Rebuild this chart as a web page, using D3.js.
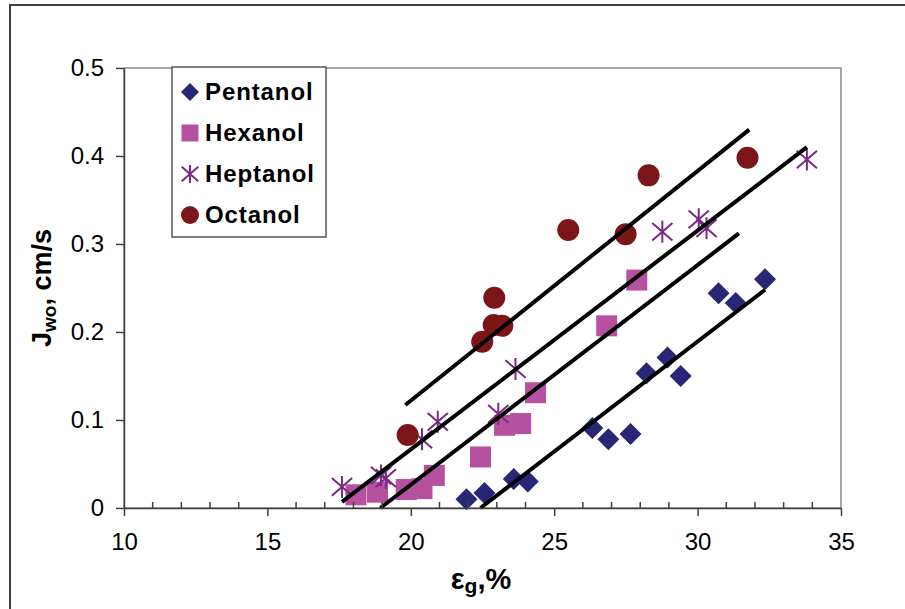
<!DOCTYPE html>
<html><head><meta charset="utf-8">
<script src="https://cdn.jsdelivr.net/npm/d3@7"></script>
<style>body{margin:0;background:#fff;} svg{display:block;font-family:"Liberation Sans",Arial,sans-serif;}</style>
</head><body><svg id="c" width="905" height="609"></svg>
<script>
// ---- data ----
const xTicks = [10, 15, 20, 25, 30, 35];
const yTicks = [0, 0.1, 0.2, 0.3, 0.4, 0.5];
const seriesNames = ["Pentanol", "Hexanol", "Heptanol", "Octanol"];

const pentanolX = [21.94, 22.57, 23.59, 24.08, 26.33, 26.89, 27.66, 28.22, 28.95, 29.41, 30.73, 31.33, 32.35];
const pentanolY = [0.010, 0.017, 0.033, 0.030, 0.091, 0.078, 0.084, 0.153, 0.171, 0.150, 0.244, 0.233, 0.260];

const hexanolX = [18.09, 18.84, 19.84, 20.39, 20.82, 22.43, 23.27, 23.83, 24.35, 26.83, 27.88];
const hexanolY = [0.015, 0.018, 0.021, 0.022, 0.037, 0.058, 0.094, 0.096, 0.131, 0.207, 0.259];

const heptanolX = [17.60, 18.96, 19.13, 20.39, 20.94, 23.05, 23.65, 28.77, 30.04, 30.31, 33.81];
const heptanolY = [0.024, 0.037, 0.034, 0.078, 0.098, 0.107, 0.158, 0.314, 0.328, 0.318, 0.396];

const octanolX = [19.89, 22.49, 22.89, 23.19, 22.91, 25.49, 27.49, 28.29, 31.74];
const octanolY = [0.083, 0.189, 0.208, 0.207, 0.239, 0.316, 0.311, 0.378, 0.398];

// trend line end points [x0, x1], [y0, y1]
const pentanolFitX = [22.43, 32.35], pentanolFitY = [0.0, 0.248];
const hexanolFitX = [18.94, 31.44], hexanolFitY = [0.0, 0.312];
const heptanolFitX = [17.60, 33.81], heptanolFitY = [0.007, 0.410];
const octanolFitX = [19.81, 31.80], octanolFitY = [0.117, 0.430];

// ---- drawing ----
const svg = d3.select("#c");
const x = d3.scaleLinear().domain([10, 35]).range([124, 841]);
const y = d3.scaleLinear().domain([0, 0.5]).range([508, 68]);

const colors = {Pentanol: "#272775", Hexanol: "#B5519F", Heptanol: "#7A2A82", Octanol: "#7B1517"};

// outer chart border
svg.append("rect").attr("x", 10).attr("y", 5).attr("width", 1000).attr("height", 1000)
  .attr("fill", "#fff").attr("stroke", "#404040").attr("stroke-width", 2);

// plot area border
svg.append("rect").attr("x", x(10)).attr("y", y(0.5)).attr("width", x(35) - x(10)).attr("height", y(0) - y(0.5))
  .attr("fill", "none").attr("stroke", "#8a8a8a").attr("stroke-width", 1.5);

function marker(g, type, s) {
  const c = colors[type];
  if (type === "Pentanol") {
    g.append("path").attr("d", `M0,${-s}L${s},0L0,${s}L${-s},0Z`).attr("fill", c);
  } else if (type === "Hexanol") {
    g.append("rect").attr("x", -s).attr("y", -s).attr("width", 2 * s).attr("height", 2 * s).attr("fill", c);
  } else if (type === "Heptanol") {
    const a = s * 0.92, b = s * 0.8;
    g.append("path").attr("d", `M0,${-s}L0,${s}M${-a},${-b}L${a},${b}M${-a},${b}L${a},${-b}`)
      .attr("stroke", c).attr("stroke-width", 2).attr("fill", "none");
  } else {
    g.append("circle").attr("r", s).attr("fill", c);
  }
}

const sets = [
  ["Pentanol", pentanolX, pentanolY, 11],
  ["Hexanol", hexanolX, hexanolY, 10.5],
  ["Heptanol", heptanolX, heptanolY, 11],
  ["Octanol", octanolX, octanolY, 11]
];
const fits = [
  [pentanolFitX, pentanolFitY], [hexanolFitX, hexanolFitY],
  [heptanolFitX, heptanolFitY], [octanolFitX, octanolFitY]
];

const markG = svg.append("g");
sets.forEach(([name, xs, ys, s]) => {
  xs.forEach((xv, i) => {
    const g = markG.append("g").attr("transform", `translate(${x(xv)},${y(ys[i])})`);
    marker(g, name, s);
  });
});

const line = d3.line().x(d => x(d[0])).y(d => y(d[1]));
fits.forEach(([fx, fy]) => {
  svg.append("path").attr("d", line(fx.map((v, i) => [v, fy[i]])))
    .attr("stroke", "#000").attr("stroke-width", 4).attr("fill", "none");
});

// axes
const xAxis = svg.append("g").attr("transform", `translate(0,${y(0)})`)
  .call(d3.axisBottom(x).tickValues(xTicks).tickSize(8).tickSizeOuter(0).tickPadding(12).tickFormat(d3.format("d")));
const minor = d3.range(10, 36, 1).filter(v => v % 5 !== 0);
svg.append("g").selectAll("line").data(minor).join("line")
  .attr("x1", d => x(d)).attr("x2", d => x(d)).attr("y1", y(0)).attr("y2", y(0) - 6)
  .attr("stroke", "#404040").attr("stroke-width", 1.5);
const yAxis = svg.append("g").attr("transform", `translate(${x(10)},0)`)
  .call(d3.axisLeft(y).tickValues(yTicks).tickSize(8).tickSizeOuter(0).tickPadding(12)
    .tickFormat(d => d === 0 ? "0" : d3.format(".1f")(d)));
[xAxis, yAxis].forEach(a => {
  a.select(".domain").attr("stroke", "#404040").attr("stroke-width", 1.5);
  a.selectAll(".tick line").attr("stroke", "#404040").attr("stroke-width", 1.5);
  a.selectAll(".tick text").attr("font-size", 24).attr("fill", "#000")
    .attr("font-family", '"Liberation Sans",Arial,sans-serif');
});
xAxis.selectAll(".tick text").attr("dy", "0.9em");

// axis titles
const yt = svg.append("text").attr("transform", `translate(51,288) rotate(-90)`)
  .attr("text-anchor", "middle").attr("font-weight", "bold").attr("font-size", 27).attr("fill", "#000");
yt.append("tspan").text("J");
yt.append("tspan").attr("font-size", 19).attr("dy", 5).text("wo");
yt.append("tspan").attr("dy", -5).text(", cm/s");

const xt = svg.append("text").attr("x", 481).attr("y", 589)
  .attr("text-anchor", "middle").attr("font-weight", "bold").attr("font-size", 29).attr("fill", "#000");
xt.append("tspan").text("ε");
xt.append("tspan").attr("font-size", 21).attr("dy", 4).text("g");
xt.append("tspan").attr("dy", -4).text(",%");

// legend
svg.append("rect").attr("x", 172).attr("y", 67).attr("width", 154).attr("height", 170)
  .attr("fill", "#fff").attr("stroke", "#555").attr("stroke-width", 1.5);
seriesNames.forEach((n, i) => {
  const cy = 92 + i * 41;
  const g = svg.append("g").attr("transform", `translate(190,${cy})`);
  marker(g, n, n === "Hexanol" ? 8.5 : 9);
  svg.append("text").attr("x", 205).attr("y", cy + 8).attr("font-weight", "bold")
    .attr("font-size", 24).attr("letter-spacing", 0.9).attr("fill", "#000").text(n);
});
</script></body></html>
